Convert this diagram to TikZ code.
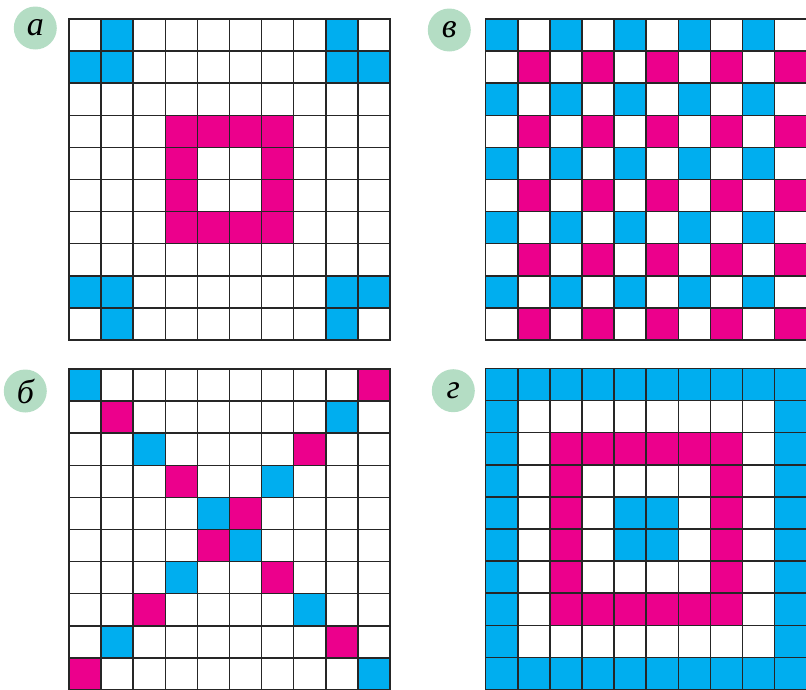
\documentclass[tikz,border=0pt]{standalone}
\usepackage{fontspec}
\setmainfont{Liberation Serif}
\usetikzlibrary{positioning}

\definecolor{cellblue}{RGB}{0,174,239}
\definecolor{cellpink}{RGB}{236,0,140}
\definecolor{badgegreen}{RGB}{180,221,196}
\definecolor{gridline}{RGB}{38,38,38}

\newcommand{\drawgrid}{%
    \foreach \i in {1,...,9} {
        \draw[gridline] (\i,0) -- (\i,10);
        \draw[gridline] (0,\i) -- (10,\i);
    }
    \draw[gridline] (0,0) rectangle (10,10);
}

\begin{document}
\begin{tikzpicture}[
    x=1pt, y=-1pt,
    panel/.style={x=32.1pt, y=-32.1pt},
    bluecell/.style={fill=cellblue},
    pinkcell/.style={fill=cellpink},
    gridline/.style={draw=gridline, line width=1.5pt},
    badge/.style={
        circle,
        fill=badgegreen,
        minimum size=43pt,
        inner sep=0pt,
        font=\fontsize{34}{34}\selectfont\itshape
    }
]
    \useasboundingbox (0,0) rectangle (806,689);

    \node[badge] (labela) at (35.3, 28) {а};
    \node[badge] (labelv) at (449.3, 30) {в};
    \node[badge] (labelb) at (25.3, 391) {б};
    \node[badge] (labelg) at (453.3, 390.7) {г};

    % panel a
    \begin{scope}[xshift=69pt, yshift=-19pt, panel]
        \foreach \c/\r in {1/0,8/0,0/1,1/1,8/1,9/1,0/8,1/8,8/8,9/8,1/9,8/9}
            \fill[bluecell] (\c,\r) rectangle ++(1,1);
        \foreach \c/\r in {3/3,4/3,5/3,6/3,3/4,6/4,3/5,6/5,3/6,4/6,5/6,6/6}
            \fill[pinkcell] (\c,\r) rectangle ++(1,1);
        \drawgrid
    \end{scope}

    % panel v
    \begin{scope}[xshift=485.7pt, yshift=-19pt, panel]
        \foreach \r in {0,2,...,8}
            \foreach \c in {0,2,...,8}
                \fill[bluecell] (\c,\r) rectangle ++(1,1);
        \foreach \r in {1,3,...,9}
            \foreach \c in {1,3,...,9}
                \fill[pinkcell] (\c,\r) rectangle ++(1,1);
        \drawgrid
    \end{scope}

    % panel b
    \begin{scope}[xshift=69pt, yshift=-369pt, panel]
        \foreach \c/\r in {0/0,8/1,2/2,6/3,4/4,5/5,3/6,7/7,1/8,9/9}
            \fill[bluecell] (\c,\r) rectangle ++(1,1);
        \foreach \c/\r in {9/0,1/1,7/2,3/3,5/4,4/5,6/6,2/7,8/8,0/9}
            \fill[pinkcell] (\c,\r) rectangle ++(1,1);
        \drawgrid
    \end{scope}

    % panel g
    \begin{scope}[xshift=485.7pt, yshift=-368.5pt, panel]
        \foreach \i in {0,...,9} {
            \fill[bluecell] (\i,0) rectangle ++(1,1);
            \fill[bluecell] (\i,9) rectangle ++(1,1);
            \fill[bluecell] (0,\i) rectangle ++(1,1);
            \fill[bluecell] (9,\i) rectangle ++(1,1);
        }
        \foreach \i in {2,...,7} {
            \fill[pinkcell] (\i,2) rectangle ++(1,1);
            \fill[pinkcell] (\i,7) rectangle ++(1,1);
            \fill[pinkcell] (2,\i) rectangle ++(1,1);
            \fill[pinkcell] (7,\i) rectangle ++(1,1);
        }
        \foreach \c/\r in {4/4,5/4,4/5,5/5}
            \fill[bluecell] (\c,\r) rectangle ++(1,1);
        \drawgrid
    \end{scope}
\end{tikzpicture}
\end{document}
